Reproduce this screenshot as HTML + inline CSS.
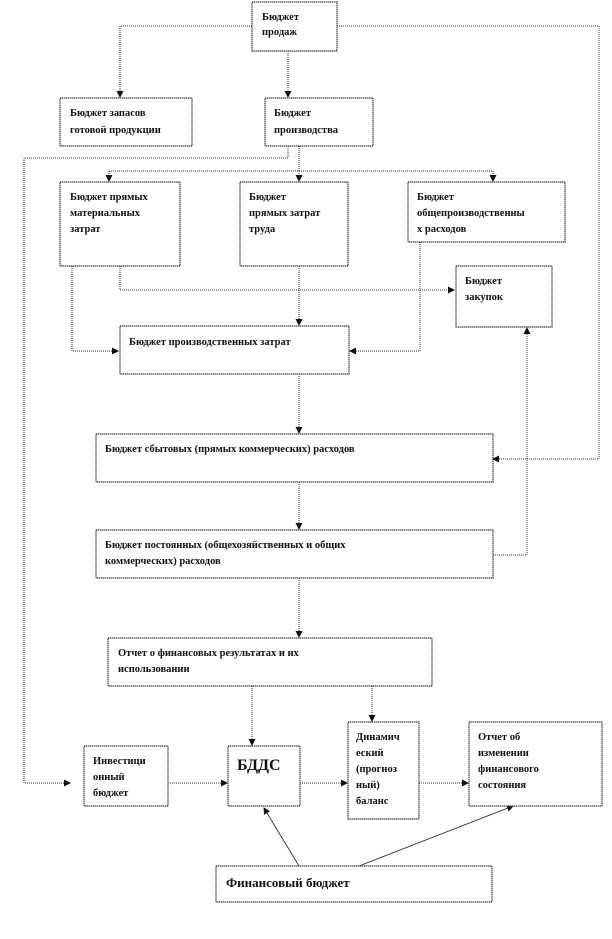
<!DOCTYPE html>
<html><head><meta charset="utf-8"><style>
html,body{margin:0;padding:0;background:#fff;}
svg{display:block}
text{font-family:"Liberation Serif",serif;font-weight:bold;font-size:10.5px;fill:#111;}
.b{fill:#fff;stroke:#444;stroke-width:1.2;stroke-dasharray:1.5 0.5}
.l{fill:none;stroke:#333;stroke-width:1;stroke-dasharray:1 1}
.s{fill:none;stroke:#222;stroke-width:0.8}
</style></head><body>
<svg width="612" height="939" viewBox="0 0 612 939">
<defs><marker id="a" markerWidth="7" markerHeight="7" refX="6" refY="3.5" orient="auto" markerUnits="userSpaceOnUse"><path d="M0,0 L7,3.5 L0,7z" fill="#111"/></marker></defs>
<path class="l" d="M252,26 H120 V97" marker-end="url(#a)"/>
<path class="l" d="M337,26 H599 V459 H493" marker-end="url(#a)"/>
<path class="l" d="M288,51 V97" marker-end="url(#a)"/>
<path class="l" d="M288,146 V158 H24 V783 H70" marker-end="url(#a)"/>
<path class="l" d="M299,146 V171"/>
<path class="l" d="M109,171 H493"/>
<path class="l" d="M109,171 V181" marker-end="url(#a)"/>
<path class="l" d="M299,171 V181" marker-end="url(#a)"/>
<path class="l" d="M493,171 V181" marker-end="url(#a)"/>
<path class="l" d="M72,266 V351 H118" marker-end="url(#a)"/>
<path class="l" d="M120,266 V290 H454" marker-end="url(#a)"/>
<path class="l" d="M299,266 V325" marker-end="url(#a)"/>
<path class="l" d="M420,242 V351 H350" marker-end="url(#a)"/>
<path class="l" d="M299,374 V433" marker-end="url(#a)"/>
<path class="l" d="M299,482 V529" marker-end="url(#a)"/>
<path class="l" d="M493,555 H527 V328" marker-end="url(#a)"/>
<path class="l" d="M299,578 V637" marker-end="url(#a)"/>
<path class="l" d="M252,686 V745" marker-end="url(#a)"/>
<path class="l" d="M372,686 V721" marker-end="url(#a)"/>
<path class="l" d="M168,783 H227" marker-end="url(#a)"/>
<path class="l" d="M300,783 H347" marker-end="url(#a)"/>
<path class="l" d="M419,783 H468" marker-end="url(#a)"/>
<path class="s" d="M299,866 L264,808" marker-end="url(#a)"/>
<path class="s" d="M359,866 L513,806" marker-end="url(#a)"/>
<rect class="b" x="252" y="2" width="85" height="49"/>
<text x="262" y="20">Бюджет</text><text x="262" y="35">продаж</text>
<rect class="b" x="60" y="98" width="132" height="48"/>
<text x="70" y="116">Бюджет запасов</text><text x="70" y="133">готовой продукции</text>
<rect class="b" x="265" y="98" width="108" height="48"/>
<text x="274" y="116">Бюджет</text><text x="274" y="133">производства</text>
<rect class="b" x="60" y="182" width="120" height="84"/>
<text x="70" y="200">Бюджет прямых</text><text x="70" y="216">материальных</text><text x="70" y="232">затрат</text>
<rect class="b" x="240" y="182" width="108" height="84"/>
<text x="249" y="200">Бюджет</text><text x="249" y="216">прямых затрат</text><text x="249" y="232">труда</text>
<rect class="b" x="408" y="182" width="157" height="60"/>
<text x="417" y="200">Бюджет</text><text x="417" y="216">общепроизводственны</text><text x="417" y="232">х расходов</text>
<rect class="b" x="456" y="266" width="96" height="61"/>
<text x="465" y="284">Бюджет</text><text x="465" y="300">закупок</text>
<rect class="b" x="120" y="326" width="229" height="48"/>
<text x="129" y="345">Бюджет производственных затрат</text>
<rect class="b" x="96" y="434" width="397" height="48"/>
<text x="105" y="452">Бюджет сбытовых (прямых коммерческих) расходов</text>
<rect class="b" x="96" y="530" width="397" height="48"/>
<text x="105" y="548">Бюджет постоянных (общехозяйственных и общих</text><text x="105" y="564">коммерческих) расходов</text>
<rect class="b" x="108" y="638" width="324" height="48"/>
<text x="118" y="656">Отчет о финансовых результатах и их</text><text x="118" y="672">использовании</text>
<rect class="b" x="84" y="746" width="84" height="60"/>
<text x="93" y="764">Инвестици</text><text x="93" y="780">онный</text><text x="93" y="796">бюджет</text>
<rect class="b" x="228" y="746" width="72" height="60"/>
<text x="237" y="770" style="font-size:16px">БДДС</text>
<rect class="b" x="348" y="722" width="71" height="97"/>
<text x="356" y="740">Динамич</text><text x="356" y="756">еский</text><text x="356" y="772">(прогноз</text><text x="356" y="788">ный)</text><text x="356" y="804">баланс</text>
<rect class="b" x="469" y="722" width="133" height="84"/>
<text x="478" y="740">Отчет об</text><text x="478" y="756">изменении</text><text x="478" y="772">финансового</text><text x="478" y="788">состояния</text>
<rect class="b" x="216" y="866" width="276" height="36"/>
<text x="226" y="887" style="font-size:13px">Финансовый бюджет</text>
</svg>
</body></html>
